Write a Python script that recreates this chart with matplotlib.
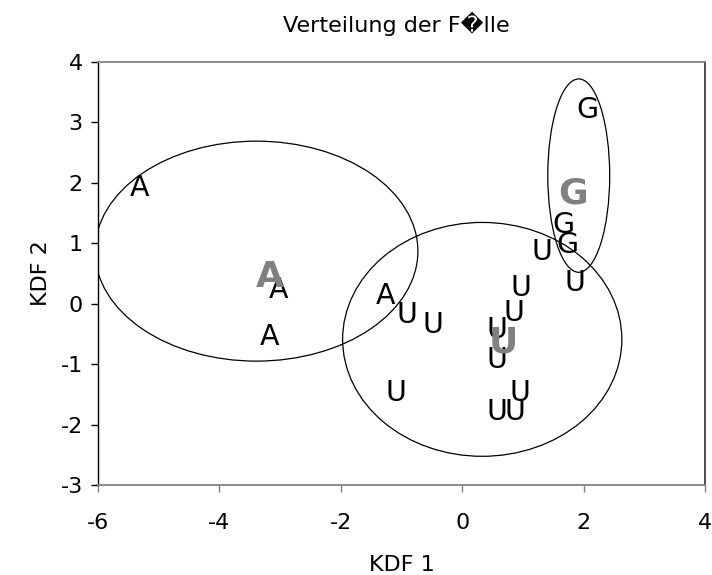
import matplotlib
matplotlib.use("Agg")
import matplotlib.pyplot as plt
from matplotlib.patches import Ellipse

# discriminant scores per case, grouped by class
a_x = [-5.31, -3.03, -3.17, -1.27]
a_y = [1.91, 0.23, -0.55, 0.13]
u_x = [-0.91, -0.48, 0.97, 0.85, 0.57, 0.57, -1.09, 0.95, 0.57, 0.87, 1.86, 1.31]
u_y = [-0.19, -0.35, 0.26, -0.16, -0.44, -0.93, -1.48, -1.48, -1.79, -1.79, 0.34, 0.85]
g_x = [2.07, 1.66, 1.74]
g_y = [3.21, 1.30, 0.97]

# group centroids
centroid_labels = ["A", "U", "G"]
centroid_x = [-3.17, 0.67, 1.83]
centroid_y = [0.44, -0.64, 1.83]

# class regions: centre x, centre y, width, height
regions = [
    (-3.39, 0.87, 5.32, 3.64),
    (0.33, -0.59, 4.60, 3.87),
    (1.92, 2.12, 1.02, 3.20),
]

x_ticks = [-6, -4, -2, 0, 2, 4]
y_ticks = [-3, -2, -1, 0, 1, 2, 3, 4]

plt.rcParams['font.family'] = ['DejaVu Sans']
plt.rcParams['axes.unicode_minus'] = False

fig = plt.figure(figsize=(7.12, 5.75), dpi=100)
ax = fig.add_axes([98 / 712, 90 / 575, 607 / 712, 423 / 575])

for cx, cy, w, h in regions:
    ax.add_patch(Ellipse((cx, cy), w, h, fill=False, edgecolor="black", lw=0.9))

for lab, xs, ys in (("A", a_x, a_y), ("U", u_x, u_y), ("G", g_x, g_y)):
    for x, y in zip(xs, ys):
        ax.text(x, y, lab, ha="center", va="center", fontsize=20.5, color="black")

for lab, x, y in zip(centroid_labels, centroid_x, centroid_y):
    ax.text(x, y, lab, ha="center", va="center", fontsize=26,
            fontweight="bold", color="#808080")

ax.set_xlim(-6, 4)
ax.set_ylim(-3, 4)
ax.set_xticks(x_ticks)
ax.set_yticks(y_ticks)
ax.tick_params(direction="out", length=5, width=1, labelsize=16, pad=6)
ax.tick_params(axis="x", pad=15, color="#808080")
ax.xaxis.get_major_ticks()[0].tick1line.set_color("black")

# plot area frame: grey top/bottom, dark right edge, black value axis
for side in ("top", "bottom"):
    ax.spines[side].set_color("#808080")
ax.spines["right"].set_color("#404040")
ax.spines["left"].set_color("black")
for sp in ax.spines.values():
    sp.set_linewidth(1.3)
ax.spines["left"].set_linewidth(1)

ax.set_xlabel("KDF 1", fontsize=16, labelpad=16)
ax.set_ylabel("KDF 2", fontsize=16, labelpad=7)
fig.text(396 / 712, 1 - 24 / 575, "Verteilung der F\ufffdlle",
         ha="center", va="center", fontsize=16)

fig.savefig("out.png", dpi=100)
